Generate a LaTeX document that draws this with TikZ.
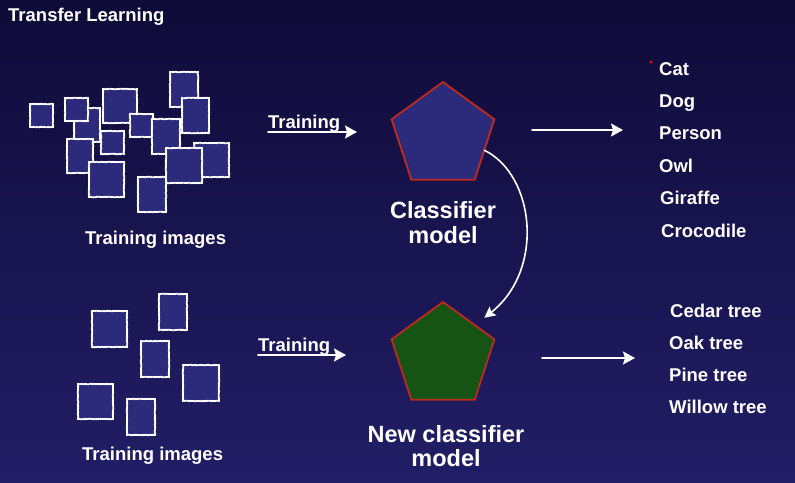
\documentclass[tikz,border=0pt]{standalone}
\usepackage{fontspec}
\setmainfont{Liberation Sans}
\usetikzlibrary{shapes.geometric,arrows.meta,decorations.pathmorphing}
\definecolor{bgtop}{HTML}{0F0B38}
\definecolor{bgbot}{HTML}{221E66}
\definecolor{sqfill}{HTML}{2C2A7A}
\definecolor{pentred}{HTML}{BE2A1E}
\definecolor{pentgreen}{HTML}{165416}
\begin{document}
\begin{tikzpicture}[x=1pt,y=-1pt,
  img/.style={draw=white, line width=1.8pt, fill=sqfill, decorate,
    decoration={random steps,segment length=1.2pt,amplitude=0.3pt}},
  chalkarrow/.style={draw=white, line width=2pt, line cap=round,
    -{Stealth[length=12pt,width=13pt,inset=2pt]}},
  pent/.style={regular polygon, regular polygon sides=5, minimum size=108pt,
    inner sep=0pt, outer sep=0pt, draw=pentred, line width=1.8pt},
  lbl/.style={text=white, font=\fontsize{18.5}{20}\selectfont\bfseries,
    inner sep=0pt, anchor=base west},
  big/.style={text=white, font=\fontsize{23.5}{24.5}\selectfont\bfseries,
    inner sep=0pt, align=center}]
\useasboundingbox (0,0) rectangle (795,482);
\shade[top color=bgtop, bottom color=bgbot] (0,0) rectangle (795,482);

\node[lbl] (title) at (8,21) {Transfer Learning};

% top training images
\path[img] (30,104) rectangle (53,127);
\path[img] (74,108) rectangle (100,142);
\path[img] (65,98) rectangle (88,121);
\path[img] (67,139) rectangle (93,173);
\path[img] (101,131) rectangle (124,154);
\path[img] (89,162) rectangle (124,197);
\path[img] (103,89) rectangle (137,123);
\path[img] (130,114) rectangle (153,137);
\path[img] (152,119) rectangle (180,154);
\path[img] (170,72) rectangle (198,107);
\path[img] (182,98) rectangle (209,133);
\path[img] (194,143) rectangle (229,177);
\path[img] (166,148) rectangle (202,183);
\path[img] (138,177) rectangle (166,212);
\node[lbl] (ti1) at (85,244) {Training images};

% bottom training images
\path[img] (92,311) rectangle (127,347);
\path[img] (159,294) rectangle (187,330);
\path[img] (141,341) rectangle (169,377);
\path[img] (183,365) rectangle (219,401);
\path[img] (78,384) rectangle (113,419);
\path[img] (127,399) rectangle (155,435);
\node[lbl] (ti2) at (82,460) {Training images};

% models
\node[pent, fill=sqfill] (cls) at (443,136) {};
\node[pent, fill=pentgreen] (ncls) at (443,356) {};
\node[big] (clsl) at (443,222.5) {Classifier\\model};
\node[big] (nclsl) at (446,446) {New classifier\\model};

% training arrows
\node[lbl] (tr1) at (268,128) {Training};
\coordinate (a1s) at (268,132);
\coordinate (a1e) at (357,132);
\draw[chalkarrow] (a1s) -- (a1e);
\node[lbl] (tr2) at (258,351) {Training};
\coordinate (a2s) at (258,355);
\coordinate (a2e) at (346,355);
\draw[chalkarrow] (a2s) -- (a2e);

% output arrows
\coordinate (a3s) at (532,130);
\coordinate (a3e) at (623,130);
\draw[chalkarrow] (a3s) -- (a3e);
\coordinate (a4s) at (542,358);
\coordinate (a4e) at (635,358);
\draw[chalkarrow] (a4s) -- (a4e);

% transfer arrow
\draw[chalkarrow, line width=1.6pt, -{Stealth[length=11pt,width=11pt,inset=2pt]}, shorten >=12pt]
  (cls.-19) .. controls (535,175) and (545,270) .. (ncls.44);

% classes
\fill[red] (651,62) circle (1.6);
\node[lbl] (c1) at (659,75) {Cat};
\node[lbl] (c2) at (659,107.4) {Dog};
\node[lbl] (c3) at (659,139.8) {Person};
\node[lbl] (c4) at (659,172.2) {Owl};
\node[lbl] (c5) at (660,204.6) {Giraffe};
\node[lbl] (c6) at (661,237) {Crocodile};

\node[lbl] (d1) at (670,317) {Cedar tree};
\node[lbl] (d2) at (669,349) {Oak tree};
\node[lbl] (d3) at (669,381) {Pine tree};
\node[lbl] (d4) at (669,413) {Willow tree};
\end{tikzpicture}
\end{document}
